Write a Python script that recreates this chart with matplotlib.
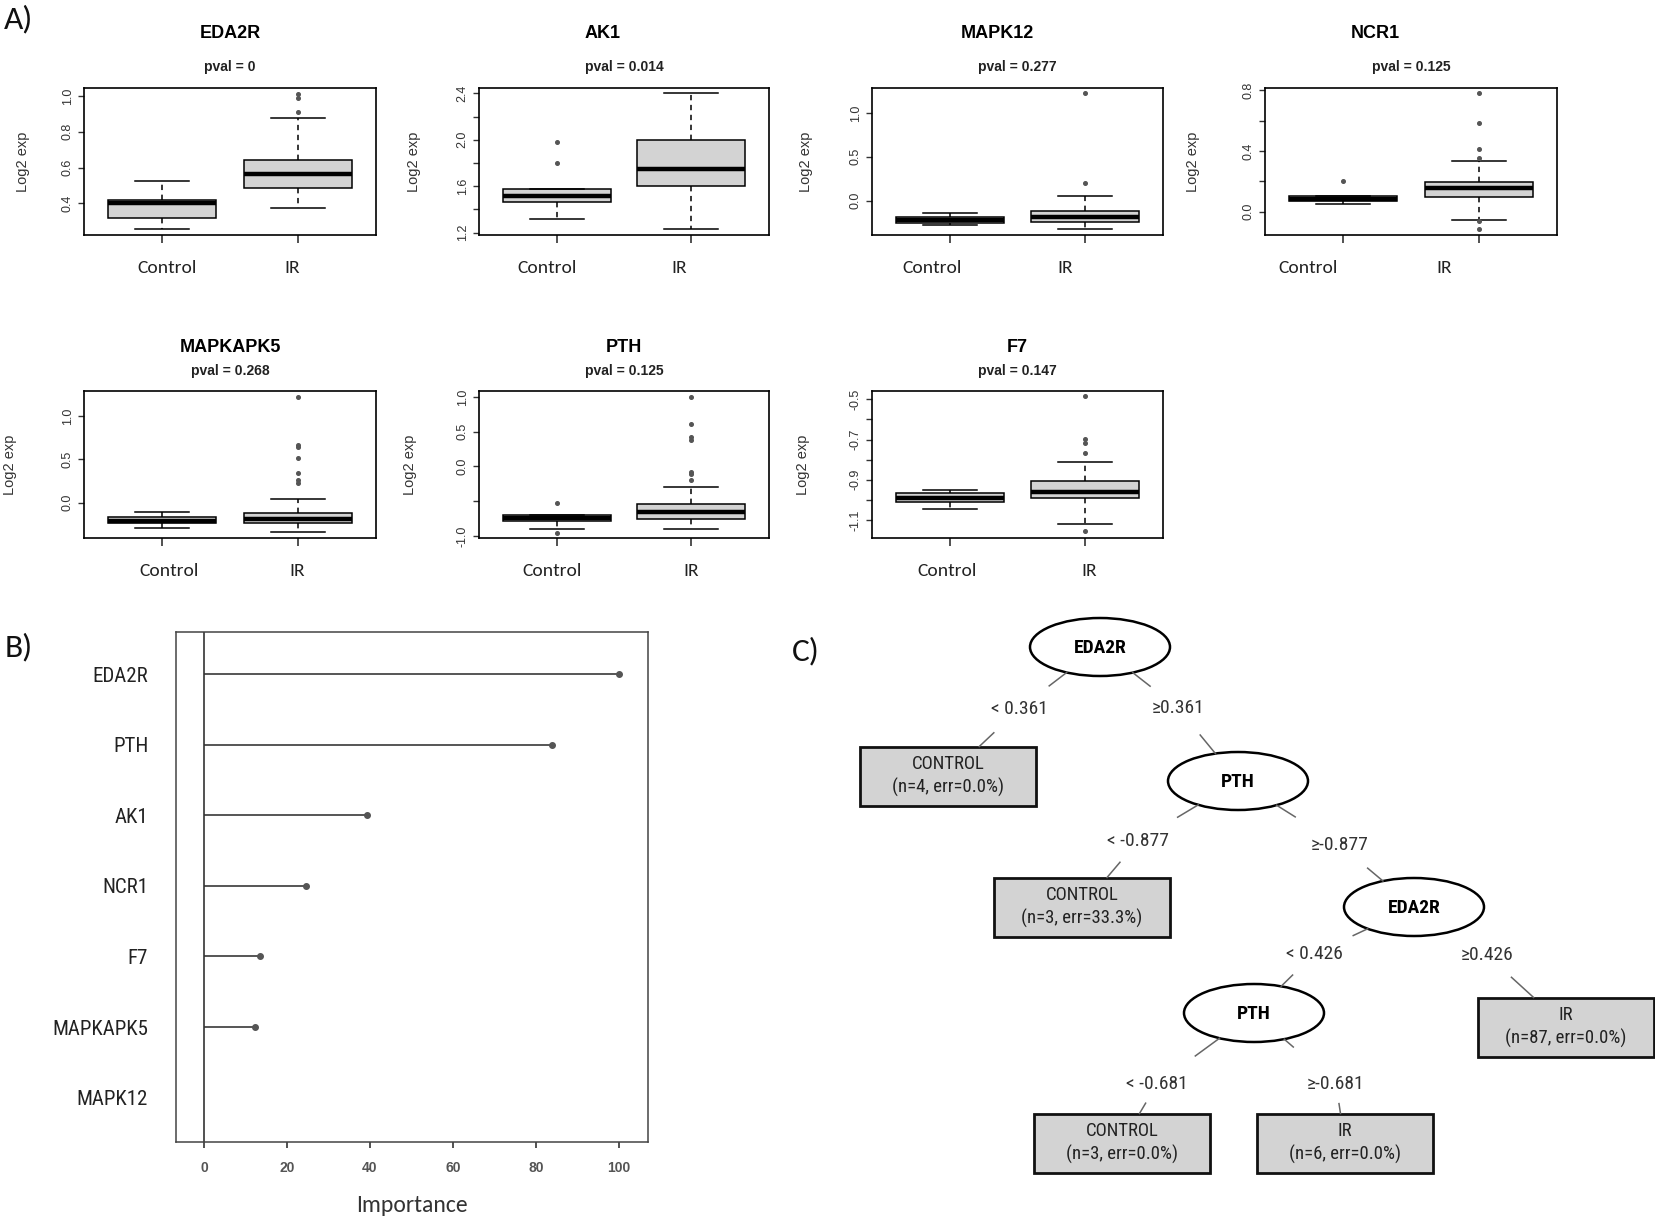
import numpy as np
import matplotlib
matplotlib.use('Agg')
import matplotlib.pyplot as plt
from matplotlib import font_manager as fm
from matplotlib.patches import Ellipse, Rectangle
from matplotlib.transforms import ScaledTranslation


def pick(*names):
    for n in names:
        try:
            fm.findfont(fm.FontProperties(family=n), fallback_to_default=False)
            return n
        except ValueError:
            pass
    return 'DejaVu Sans'


SANS = pick('Liberation Sans', 'Arial')
NARROW = pick('Liberation Sans Narrow', 'Roboto Condensed', 'Liberation Sans')
CAL = pick('Carlito', 'Lato')

# ---- panel A data ----
genes = ['EDA2R', 'AK1', 'MAPK12', 'NCR1', 'MAPKAPK5', 'PTH', 'F7']
pvals = ['0', '0.014', '0.277', '0.125', '0.268', '0.125', '0.147']
groups = ['Control', 'IR']

# whislo, q1, median, q3, whishi
ctrl_stats = [
    [0.254, 0.32, 0.40, 0.42, 0.527],
    [1.318, 1.468, 1.52, 1.574, 1.574],
    [-0.279, -0.252, -0.218, -0.183, -0.137],
    [0.05, 0.07, 0.084, 0.105, 0.105],
    [-0.30, -0.238, -0.208, -0.162, -0.108],
    [-0.893, -0.783, -0.735, -0.702, -0.702],
    [-1.045, -1.012, -0.992, -0.966, -0.951],
]
ctrl_fliers = [[], [1.80, 1.98], [], [0.2], [], [-0.525, -0.95], []]

ir_stats = [
    [0.376, 0.488, 0.565, 0.643, 0.877],
    [1.23, 1.60, 1.75, 2.00, 2.40],
    [-0.328, -0.24, -0.183, -0.115, 0.057],
    [-0.055, 0.095, 0.154, 0.193, 0.336],
    [-0.342, -0.238, -0.185, -0.123, 0.046],
    [-0.893, -0.759, -0.659, -0.544, -0.296],
    [-1.119, -0.992, -0.963, -0.905, -0.811],
]
ir_fliers = [
    [0.91, 0.99, 1.01],
    [],
    [0.198, 1.229],
    [0.354, 0.415, 0.582, 0.78, -0.06, -0.116],
    [0.23, 0.262, 0.346, 0.515, 0.638, 0.669, 1.223],
    [-0.2, -0.115, -0.081, 0.382, 0.43, 0.611, 0.993],
    [-0.765, -0.715, -0.697, -0.485, -1.155],
]

y_limits = [(0.223, 1.045), (1.18, 2.446), (-0.393, 1.286), (-0.154, 0.815),
            (-0.41, 1.292), (-1.029, 1.086), (-1.189, -0.459)]
y_ticks = [[0.4, 0.6, 0.8, 1.0],
           [1.2, 1.4, 1.6, 1.8, 2.0, 2.2, 2.4],
           [0.0, 0.5, 1.0],
           [0.0, 0.2, 0.4, 0.6, 0.8],
           [0.0, 0.5, 1.0],
           [-1.0, -0.5, 0.0, 0.5, 1.0],
           [-1.1, -1.0, -0.9, -0.8, -0.7, -0.6, -0.5]]
y_ticklabels = [['0.4', '0.6', '0.8', '1.0'],
                ['1.2', '', '1.6', '', '2.0', '', '2.4'],
                ['0.0', '0.5', '1.0'],
                ['0.0', '', '0.4', '', '0.8'],
                ['0.0', '0.5', '1.0'],
                ['-1.0', '', '0.0', '0.5', '1.0'],
                ['-1.1', '', '-0.9', '', '-0.7', '', '-0.5']]

# ---- panel B data ----
imp_genes = ['EDA2R', 'PTH', 'AK1', 'NCR1', 'F7', 'MAPKAPK5', 'MAPK12']
imp_vals = np.array([100, 83.8, 39.3, 24.6, 13.5, 12.2, 0])

# ---- panel C data (decision tree) ----
split_var = ['EDA2R', 'PTH', 'EDA2R', 'PTH']
split_thr = [0.361, -0.877, 0.426, -0.681]
leaf_class = ['CONTROL', 'CONTROL', 'IR', 'CONTROL', 'IR']
leaf_n = [4, 3, 87, 3, 6]
leaf_err = [0.0, 33.3, 0.0, 0.0, 0.0]
children = [(('leaf', 0), ('split', 1)),
            (('leaf', 1), ('split', 2)),
            (('split', 3), ('leaf', 2)),
            (('leaf', 3), ('leaf', 4))]

# ---- layout (pixels) ----
W, H = 1656, 1219
fig = plt.figure(figsize=(W / 100, H / 100), dpi=100)


def add_ax(left, top, w, h):
    return fig.add_axes([left / W, 1 - (top + h) / H, w / W, h / H])


ax_left = [84, 479, 872, 1265, 84, 479, 872]
ax_top = [88, 88, 88, 88, 391, 391, 391]
ax_w = [292, 290, 291, 292, 292, 290, 291]
ax_h = 147
title_y = [33, 33, 33, 33, 347, 347, 347]
pval_y = [67, 67, 67, 67, 371, 371, 371]
title_dx = [0, -21, -20, -36, 0, 0, 0]
lab_dx = [(5, -5), (-10, -12), (-18, -20), (-35, -34), (7, 0), (-5, 0), (-3, 4)]
ylab_off = [54, 58, 59, 65, 67, 62, 62]

for i, g in enumerate(genes):
    ax = add_ax(ax_left[i], ax_top[i], ax_w[i], ax_h)
    stats = []
    for st, fl, name in ((ctrl_stats[i], ctrl_fliers[i], groups[0]),
                         (ir_stats[i], ir_fliers[i], groups[1])):
        stats.append(dict(whislo=st[0], q1=st[1], med=st[2], q3=st[3],
                          whishi=st[4], fliers=np.array(fl), label=name))
    ax.bxp(stats, positions=[1, 2], widths=0.8, capwidths=0.4,
           patch_artist=True,
           boxprops=dict(facecolor='#d3d3d3', edgecolor='black', linewidth=1.1),
           medianprops=dict(color='black', linewidth=3.2, solid_capstyle='butt'),
           whiskerprops=dict(color='black', linewidth=1.1, linestyle=(0, (3.5, 3))),
           capprops=dict(color='black', linewidth=1.1),
           flierprops=dict(marker='o', markersize=2.6, markerfacecolor='#555555',
                           markeredgecolor='#555555'))
    ax.set_xlim(0.42, 2.58)
    ax.set_ylim(*y_limits[i])
    ax.set_yticks(y_ticks[i])
    ax.set_yticklabels(y_ticklabels[i], rotation=90, va='center',
                       family=SANS, fontsize=9, color='#333333')
    ax.set_xticks([1, 2])
    ax.set_xticklabels(groups, family=CAL, fontsize=14, color='#222222')
    ax.tick_params(axis='y', length=4.5, width=1, pad=3, color='#333333')
    ax.tick_params(axis='x', length=6, width=1.2, pad=12, color='#333333')
    for lab, dx in zip(ax.get_xticklabels(), lab_dx[i]):
        lab.set_transform(lab.get_transform() +
                          ScaledTranslation(dx / 100, 0, fig.dpi_scale_trans))
    for s in ax.spines.values():
        s.set_linewidth(1.2)
    ax.set_ylabel('Log2 exp', family=SANS, fontsize=10.5, color='#333333')
    ax.yaxis.set_label_coords(-ylab_off[i] / ax_w[i], 0.5)
    cx = ax_left[i] + ax_w[i] / 2
    fig.text((cx + title_dx[i]) / W, 1 - title_y[i] / H, g, ha='center',
             va='center', family=SANS, fontsize=13, fontweight='bold')
    fig.text(cx / W, 1 - pval_y[i] / H, 'pval = ' + pvals[i], ha='center',
             va='center', family=SANS, fontsize=10, fontweight='bold',
             color='#222222')

# ---- panel B ----
axb = add_ax(176, 632, 472, 510)
ypos = np.arange(len(imp_genes), 0, -1)
axb.hlines(ypos, 0, imp_vals, color='#555555', linewidth=1.4)
mask = imp_vals > 0
axb.plot(imp_vals[mask], ypos[mask], 'o', markersize=4, color='#555555')
axb.axvline(0, color='#333333', linewidth=1.2)
axb.set_xlim(-6.75, 107)
axb.set_ylim(0.37, 7.6)
axb.set_yticks(ypos)
axb.set_yticklabels(imp_genes, family=[NARROW, 'DejaVu Sans'], fontsize=15,
                    color='#222222')
for lab in axb.get_yticklabels():
    lab.set_transform(lab.get_transform() +
                      ScaledTranslation(0, -3 / 100, fig.dpi_scale_trans))
axb.set_xticks(np.arange(0, 101, 20))
axb.set_xticklabels([str(v) for v in range(0, 101, 20)], family=SANS,
                    fontsize=10, fontweight='bold', color='#555555')
axb.tick_params(axis='y', length=0, pad=20)
axb.tick_params(axis='x', length=4, width=1.2, color='#333333', pad=10)
for s in axb.spines.values():
    s.set_linewidth(1.1)
    s.set_color('#444444')
axb.set_xlabel('Importance', family=CAL, fontsize=17, color='#333333',
               labelpad=14)

# ---- panel C ----
axc = fig.add_axes([0, 0, 1, 1])
axc.set_xlim(0, W)
axc.set_ylim(H, 0)
axc.axis('off')

split_xy = [(1100, 647), (1238, 781), (1414, 907), (1254, 1013)]
leaf_xy = [(948, 776), (1082, 907), (1566, 1027), (1122, 1143), (1345, 1143)]
label_xy = [((1019, 709), (1178, 708)), ((1138, 841), (1340, 845)),
            ((1314, 954), (1487, 955)), ((1157, 1084), (1336, 1084))]
ell_w, ell_h = 140, 58
box_w, box_h = 176, 59
seg_len = [((22, 20), (22, 24)), ((24, 20), (22, 20)),
           ((16, 16), (0, 30)), ((30, 12), (12, 10))]


def boundary(kind, c, p):
    dx, dy = p[0] - c[0], p[1] - c[1]
    if kind == 'split':
        t = 1 / np.sqrt((dx / (ell_w / 2)) ** 2 + (dy / (ell_h / 2)) ** 2)
    else:
        t = min((box_w / 2) / max(abs(dx), 1e-9), (box_h / 2) / max(abs(dy), 1e-9))
    return np.array([c[0] + t * dx, c[1] + t * dy])


def seg(kind, c, p, length):
    if length <= 0:
        return
    a = boundary(kind, c, p)
    d = np.array(p) - a
    d = d / np.hypot(*d)
    b = a + d * length
    axc.plot([a[0], b[0]], [a[1], b[1]], color='#666666', linewidth=1.1)


for i, (var, thr) in enumerate(zip(split_var, split_thr)):
    c = split_xy[i]
    axc.add_patch(Ellipse(c, ell_w, ell_h, facecolor='white',
                          edgecolor='black', linewidth=1.8))
    axc.text(c[0], c[1] + 1, var, ha='center', va='center',
             family=[NARROW, 'DejaVu Sans'], fontsize=14, fontweight='bold')
    texts = ['< %.3f' % thr, '\u2265%.3f' % thr]
    for side in range(2):
        lx, ly = label_xy[i][side]
        axc.text(lx, ly, texts[side], ha='center', va='center',
                 family=[NARROW, 'DejaVu Sans'], fontsize=14, color='#333333')
        kind, idx = children[i][side]
        cxy = split_xy[idx] if kind == 'split' else leaf_xy[idx]
        seg('split', c, (lx, ly), seg_len[i][side][0])
        seg(kind, cxy, (lx, ly), seg_len[i][side][1])

for j, cls in enumerate(leaf_class):
    x, y = leaf_xy[j]
    axc.add_patch(Rectangle((x - box_w / 2, y - box_h / 2), box_w, box_h,
                            facecolor='#d3d3d3', edgecolor='#111111',
                            linewidth=2))
    axc.text(x, y - 12, cls, ha='center', va='center',
             family=[NARROW, 'DejaVu Sans'], fontsize=13.5, color='#222222')
    axc.text(x, y + 11, '(n=%d, err=%.1f%%)' % (leaf_n[j], leaf_err[j]),
             ha='center', va='center', family=[NARROW, 'DejaVu Sans'],
             fontsize=13.5, color='#222222')

# panel letters
for lab, (x, y) in zip(['A)', 'B)', 'C)'], [(19, 19), (19, 647), (806, 651)]):
    fig.text(x / W, 1 - y / H, lab, ha='center', va='center', family=CAL,
             fontsize=24, color='#111111')

fig.savefig('out.png', dpi=100)
